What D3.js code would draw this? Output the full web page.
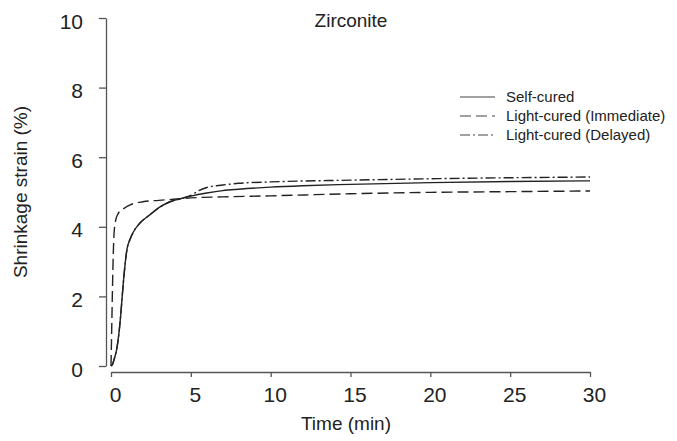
<!DOCTYPE html>
<html><head><meta charset="utf-8">
<script src="https://cdn.jsdelivr.net/npm/d3@7"></script>
<style>body{margin:0;background:#fff}svg{display:block}text{font-family:"Liberation Sans",Arial,sans-serif;fill:#222}</style>
</head><body>
<svg id="c" width="677" height="441"></svg>
<script>
const title = "Zirconite";
const xLabel = "Time (min)";
const yLabel = "Shrinkage strain (%)";
const xTicks = [0,5,10,15,20,25,30];
const yTicks = [0,2,4,6,8,10];
const seriesNames = ["Self-cured","Light-cured (Immediate)","Light-cured (Delayed)"];

const selfT = [0,0.1,0.2,0.35,0.5,0.6,0.77,0.9,1.0,1.2,1.4,1.8,2.45,3.0,3.7,4.3,5,6,7,8,10,12,15,20,25,30];
const selfV = [0,0.05,0.2,0.46,0.95,1.42,2.38,3.0,3.35,3.65,3.85,4.1,4.35,4.55,4.72,4.8,4.88,4.97,5.04,5.08,5.14,5.18,5.22,5.27,5.30,5.32];
const immT = [0,0.02,0.05,0.1,0.19,0.3,0.45,0.67,1.2,2,3,3.9,5,7,10,15,20,25,30];
const immV = [0,0.46,1.2,2.4,3.8,4.2,4.38,4.48,4.63,4.72,4.76,4.79,4.83,4.86,4.89,4.95,4.99,5.01,5.03];
const delT = [0,0.1,0.2,0.35,0.5,0.6,0.77,0.9,1.0,1.2,1.4,1.8,2.45,3.0,3.7,4.3,5,5.5,6,7,8,10,15,20,25,30];
const delV = [0,0.05,0.2,0.46,0.95,1.42,2.38,3.0,3.35,3.65,3.85,4.1,4.35,4.55,4.72,4.8,4.9,5.04,5.13,5.2,5.25,5.29,5.34,5.38,5.41,5.43];

const svg = d3.select("#c");
const x = d3.scaleLinear().domain([0,30]).range([111,590]);
const y = d3.scaleLinear().domain([0,10]).range([366,18]);
const axisColor = "#555";
const tickFont = "'Liberation Sans Narrow', 'Liberation Sans', Arial, sans-serif";

const gx = svg.append("g").attr("transform","translate(0,372)")
  .call(d3.axisBottom(x).tickValues(xTicks).tickSize(5).tickSizeOuter(0).tickPadding(10));
const gy = svg.append("g").attr("transform","translate(106,0)")
  .call(d3.axisLeft(y).tickValues(yTicks).tickSize(7).tickSizeOuter(0).tickPadding(16));
[gx,gy].forEach(g=>{
  g.selectAll("path,line").attr("stroke",axisColor).attr("stroke-width",1.3);
  g.selectAll("text").attr("font-size",21).attr("font-family",tickFont).attr("fill","#222");
});
gx.selectAll("text").attr("dx",4);
gy.selectAll("text").attr("dy","0.48em");

const line = d3.line().x(d=>x(d[0])).y(d=>y(d[1])).curve(d3.curveMonotoneX);
const series = [
  {t:selfT,v:selfV,dash:null},
  {t:immT,v:immV,dash:"11,5"},
  {t:delT,v:delV,dash:"10,3,2,3"}
];
series.forEach(s=>{
  svg.append("path").datum(s.t.map((t,i)=>[t,s.v[i]]))
    .attr("d",line).attr("fill","none").attr("stroke","#222").attr("stroke-width",1.4)
    .attr("stroke-dasharray",s.dash);
});

svg.append("text").attr("x",351).attr("y",27).attr("text-anchor","middle").attr("font-size",19).text(title);
svg.append("text").attr("x",346).attr("y",430).attr("text-anchor","middle").attr("font-size",19).text(xLabel);
svg.append("text").attr("transform","translate(27,192) rotate(-90)").attr("text-anchor","middle").attr("font-size",19).text(yLabel);

const lg = svg.append("g");
seriesNames.forEach((n,i)=>{
  const yy = 97 + i*19;
  lg.append("line").attr("x1",460).attr("x2",495).attr("y1",yy).attr("y2",yy)
    .attr("stroke","#444").attr("stroke-width",1.2).attr("stroke-dasharray",series[i].dash);
  lg.append("text").attr("x",506).attr("y",yy+5).attr("font-size",15).text(n);
});
</script>
</body></html>
